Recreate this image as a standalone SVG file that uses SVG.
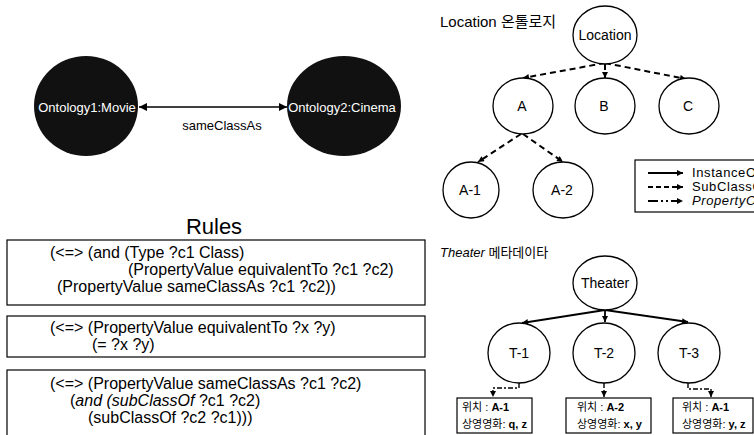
<svg xmlns="http://www.w3.org/2000/svg" width="754" height="435" viewBox="0 0 754 435">
<defs>
<style>
text{font-family:"Liberation Sans",Arial,"Noto Sans CJK KR",sans-serif;fill:#000}
.kr{font-family:"Noto Sans CJK KR","Liberation Sans",sans-serif}
.wt{fill:#fff;font-size:13px;text-anchor:middle}
.rule{font-size:16px}
.node{fill:#fff;stroke:#000;stroke-width:1.3}
.nl{font-size:14px;text-anchor:middle}
.dash{fill:none;stroke:#000;stroke-width:2;stroke-dasharray:6 4}
.solid{fill:none;stroke:#000;stroke-width:1.8}
.dd{fill:none;stroke:#000;stroke-width:1.4;stroke-dasharray:5 2 2 2}
.box{fill:#fff;stroke:#000;stroke-width:1.2}
.bt{font-size:11px}
.lg{font-size:13px;letter-spacing:0.6px}
</style>
<marker id="big" viewBox="0 0 10 10" refX="10" refY="5" markerUnits="userSpaceOnUse" markerWidth="9" markerHeight="8" orient="auto-start-reverse"><path d="M0,0L10,5L0,10z"/></marker>
<marker id="sm" viewBox="0 0 10 10" refX="10" refY="5" markerUnits="userSpaceOnUse" markerWidth="7" markerHeight="6" orient="auto"><path d="M0,0L10,5L0,10z"/></marker>
</defs>
<rect width="754" height="435" fill="#fff"/>

<g id="connectors">
<line x1="139" y1="107" x2="287" y2="107" stroke="#000" stroke-width="1.6" marker-start="url(#big)" marker-end="url(#big)"/>
<path class="dash" d="M605,63L523,78" marker-end="url(#sm)"/>
<path class="dash" d="M605,64L605,78" marker-end="url(#sm)"/>
<path class="dash" d="M605,63L686,79" marker-end="url(#sm)"/>
<path class="dash" d="M521,134L478,162" marker-end="url(#sm)"/>
<path class="dash" d="M523,134L563,162" marker-end="url(#sm)"/>
<path class="solid" d="M605,310L522,323" marker-end="url(#sm)"/>
<path class="solid" d="M605,310L605,322" marker-end="url(#sm)"/>
<path class="solid" d="M605,310L688,322" marker-end="url(#sm)"/>
<path class="dd" d="M519,383V388H493V397" marker-end="url(#sm)"/>
<path class="dd" d="M604,383V397" marker-end="url(#sm)"/>
<path class="dd" d="M688,383V389H711V397" marker-end="url(#sm)"/>
</g>

<g id="movie">
<ellipse cx="86" cy="106" rx="52" ry="50" fill="#111"/>
<text class="wt" x="87" y="112">Ontology1:Movie</text>
</g>
<g id="cinema">
<ellipse cx="344" cy="106" rx="57" ry="50" fill="#111"/>
<text class="wt" x="342" y="112">Ontology2:Cinema</text>
</g>
<text id="edge-label" x="222" y="130" font-size="13" text-anchor="middle">sameClassAs</text>

<g id="rules">
<text x="214" y="234" font-size="22" text-anchor="middle">Rules</text>
<g id="rule1">
<rect class="box" x="7" y="240" width="418" height="65"/>
<text class="rule" x="50" y="258">(&lt;=&gt; (and (Type ?c1 Class)</text>
<text class="rule" x="128" y="275">(PropertyValue equivalentTo ?c1 ?c2)</text>
<text class="rule" x="57" y="292">(PropertyValue sameClassAs ?c1 ?c2))</text>
</g>
<g id="rule2">
<rect class="box" x="7" y="316" width="418" height="41"/>
<text class="rule" x="50" y="333">(&lt;=&gt; (PropertyValue equivalentTo ?x ?y)</text>
<text class="rule" x="92" y="350">(= ?x ?y)</text>
</g>
<g id="rule3">
<rect class="box" x="7" y="370" width="418" height="80"/>
<text class="rule" x="50" y="389">(&lt;=&gt; (PropertyValue sameClassAs ?c1 ?c2)</text>
<text class="rule" x="70" y="406">(<tspan font-style="italic">and (subClassOf</tspan> ?c1 ?c2)</text>
<text class="rule" x="88" y="423">(subClassOf ?c2 ?c1)))</text>
</g>
</g>

<text x="440" y="27" font-size="15">Location <tspan class="kr">온톨로지</tspan></text>
<g id="location"><ellipse class="node" cx="605" cy="35" rx="32" ry="29"/><text class="nl" x="605" y="40">Location</text></g>
<g id="A"><ellipse class="node" cx="523" cy="106" rx="30" ry="28"/><text class="nl" x="522" y="111">A</text></g>
<g id="B"><ellipse class="node" cx="605" cy="106" rx="30" ry="28"/><text class="nl" x="604" y="111">B</text></g>
<g id="C"><ellipse class="node" cx="689" cy="106" rx="30" ry="28"/><text class="nl" x="688" y="111">C</text></g>
<g id="A-1"><ellipse class="node" cx="471" cy="190" rx="28" ry="28"/><text class="nl" x="470" y="195">A-1</text></g>
<g id="A-2"><ellipse class="node" cx="563" cy="190" rx="30" ry="28"/><text class="nl" x="562" y="195">A-2</text></g>

<g id="legend">
<rect class="box" x="635" y="160" width="130" height="52"/>
<line x1="648" y1="173" x2="683" y2="173" stroke="#000" stroke-width="2.2" marker-end="url(#sm)"/>
<line x1="648" y1="187" x2="683" y2="187" stroke="#000" stroke-width="2.2" stroke-dasharray="5 3" marker-end="url(#sm)"/>
<line x1="648" y1="201" x2="683" y2="201" stroke="#000" stroke-width="2" stroke-dasharray="10 3 2 3 2 3" marker-end="url(#sm)"/>
<text class="lg" x="692" y="177">InstanceOf</text>
<text class="lg" x="692" y="191">SubClassOf</text>
<text class="lg" x="692" y="205" font-style="italic">PropertyOf</text>
</g>

<text x="440" y="257" font-size="13"><tspan font-style="italic">Theater</tspan> <tspan class="kr">메타데이타</tspan></text>
<g id="theater"><ellipse class="node" cx="605" cy="283" rx="32" ry="27"/><text class="nl" x="605" y="288">Theater</text></g>
<g id="T-1"><ellipse class="node" cx="519" cy="353" rx="31" ry="30"/><text class="nl" x="519" y="358">T-1</text></g>
<g id="T-2"><ellipse class="node" cx="604" cy="353" rx="31" ry="30"/><text class="nl" x="604" y="358">T-2</text></g>
<g id="T-3"><ellipse class="node" cx="689" cy="353" rx="31" ry="30"/><text class="nl" x="689" y="358">T-3</text></g>

<g id="box-T1">
<rect class="box" x="457" y="398" width="75" height="35"/>
<text class="bt" x="462" y="411"><tspan class="kr">위치</tspan> : <tspan font-weight="bold">A-1</tspan></text>
<text class="bt" x="462" y="428"><tspan class="kr">상영영화</tspan>: <tspan font-weight="bold">q, z</tspan></text>
</g>
<g id="box-T2">
<rect class="box" x="566" y="398" width="85" height="35"/>
<text class="bt" x="577" y="411"><tspan class="kr">위치</tspan> : <tspan font-weight="bold">A-2</tspan></text>
<text class="bt" x="577" y="428"><tspan class="kr">상영영화</tspan>: <tspan font-weight="bold">x, y</tspan></text>
</g>
<g id="box-T3">
<rect class="box" x="673" y="398" width="80" height="35"/>
<text class="bt" x="682" y="411"><tspan class="kr">위치</tspan> : <tspan font-weight="bold">A-1</tspan></text>
<text class="bt" x="682" y="428"><tspan class="kr">상영영화</tspan>: <tspan font-weight="bold">y, z</tspan></text>
</g>
</svg>
